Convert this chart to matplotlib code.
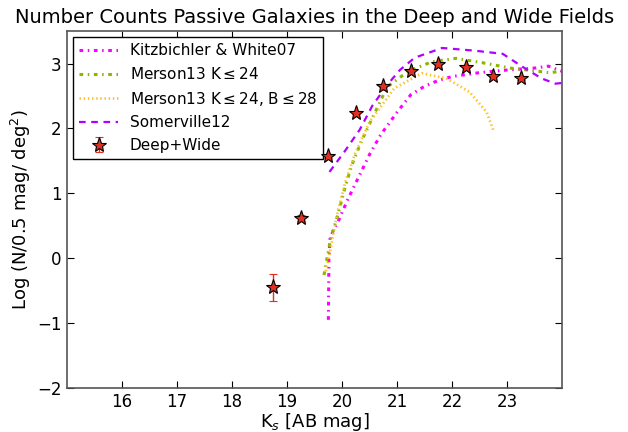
import matplotlib
matplotlib.use("Agg")
import matplotlib.pyplot as plt
import numpy as np

# Observed data (Deep+Wide)
obs_mag = [18.75, 19.25, 19.75, 20.25, 20.75, 21.25, 21.75, 22.25, 22.75, 23.25]
obs_logn = [-0.45, 0.62, 1.58, 2.24, 2.66, 2.89, 2.99, 2.95, 2.81, 2.77]
obs_err = [0.21, 0.04, 0.03, 0.02, 0.02, 0.02, 0.02, 0.02, 0.02, 0.02]

# Kitzbichler & White07
kw_mag = [19.75, 19.76, 19.78, 19.85, 19.92, 20.1, 20.3, 20.5, 20.7, 21.0, 21.25, 21.5, 21.75, 22.0, 22.5, 23.0, 23.5, 23.75, 24.0]
kw_logn = [-0.95, 0.0, 0.3, 0.45, 0.55, 0.9, 1.25, 1.6, 1.9, 2.25, 2.52, 2.65, 2.74, 2.8, 2.86, 2.9, 2.93, 2.96, 2.88]

# Merson13 K<=24
m1_mag = [19.67, 19.79, 19.93, 20.04, 20.17, 20.35, 20.51, 20.82, 21.2, 21.64, 22.07, 22.57, 23.06, 23.57, 23.77, 24.0]
m1_logn = [-0.26, 0.3, 0.69, 1.05, 1.42, 1.8, 2.09, 2.64, 2.88, 3.03, 3.08, 3.01, 2.93, 2.88, 2.86, 2.88]

# Merson13 K<=24, B<=28
m2_mag = [19.7, 19.75, 19.9, 20.05, 20.23, 20.5, 20.95, 21.45, 21.9, 22.32, 22.63, 22.75]
m2_logn = [-0.2, -0.03, 0.64, 1.15, 1.6, 2.1, 2.62, 2.85, 2.77, 2.56, 2.25, 1.97]

# Somerville12
s12_mag = [19.77, 20.05, 20.32, 20.55, 20.82, 21.05, 21.32, 21.82, 22.39, 22.92, 23.28, 23.63, 23.88, 24.0]
s12_logn = [1.33, 1.65, 1.98, 2.35, 2.67, 2.9, 3.09, 3.24, 3.2, 3.15, 2.95, 2.77, 2.69, 2.7]

fig = plt.figure(figsize=(6.28, 4.32), dpi=100)
fig.patch.set_facecolor("white")
ax = fig.add_axes([0.107, 0.102, 0.788, 0.826])

ax.plot(kw_mag, kw_logn, color="#ff00ff", ls=(0, (1.2, 1.5, 0.5, 1.5)), lw=2.2, label="Kitzbichler & White07")
ax.plot(m1_mag, m1_logn, color="#8db600", ls=(0, (1.2, 1.5, 0.5, 1.5)), lw=2.2, label=r"Merson13 K$\leq$24")
ax.plot(m2_mag, m2_logn, color="#ffc125", ls=(0, (0.5, 1.0)), lw=2.0, label=r"Merson13 K$\leq$24, B$\leq$28")
ax.plot(s12_mag, s12_logn, color="#b000ff", ls=(0, (3, 2.5)), lw=1.6, label="Somerville12")
ax.errorbar(obs_mag, obs_logn, yerr=obs_err, fmt="*", color="#e03020", mfc="#e03020",
            mec="black", mew=0.8, ms=11, ecolor="#e03020", capsize=3, elinewidth=1,
            label="Deep+Wide", zorder=5)

ax.set_xlim(15, 24)
ax.set_ylim(-2, 3.5)
ax.set_xticks([16, 17, 18, 19, 20, 21, 22, 23])
ax.set_yticks([-2, -1, 0, 1, 2, 3])
ax.tick_params(direction="in", top=True, right=True, labelsize=12, length=5, width=0.8, pad=4)
for s in ax.spines.values():
    s.set_color("#555555")
    s.set_linewidth(1.2)

ax.set_xlabel(r"K$_s$ [AB mag]", fontsize=13)
ax.set_ylabel(r"Log (N/0.5 mag/ deg$^2$)", fontsize=13)
ax.xaxis.set_label_coords(0.5, -0.065)
ax.yaxis.set_label_coords(-0.07, 0.5)
ax.set_title("Number Counts Passive Galaxies in the Deep and Wide Fields", fontsize=14)

leg = ax.legend(loc="upper left", fontsize=11, numpoints=1, handlelength=2.5,
                fancybox=False, framealpha=1, borderaxespad=0.4)
leg.get_frame().set_edgecolor("black")

fig.savefig("out.png", dpi=100, facecolor="white")
